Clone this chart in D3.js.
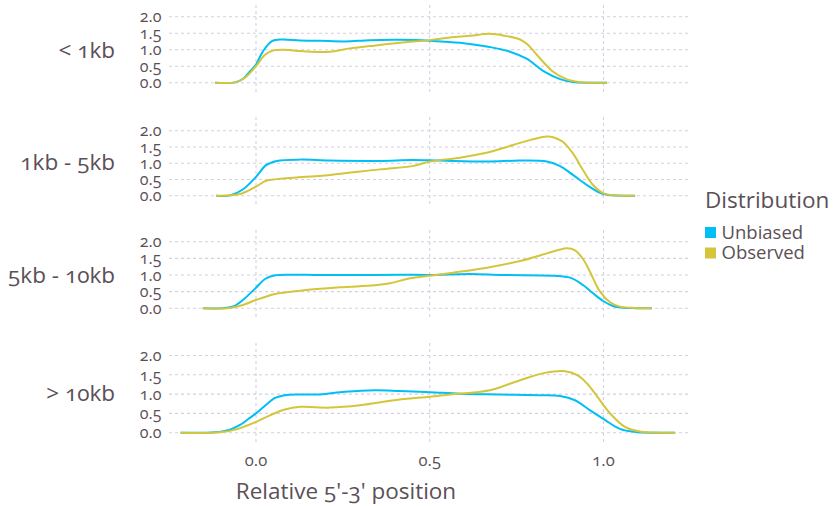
<!DOCTYPE html>
<html>
<head>
<meta charset="utf-8">
<script src="https://cdn.jsdelivr.net/npm/d3@7"></script>
<style>
  html, body { margin: 0; padding: 0; background: #fff; }
  svg text { font-family: "Open Sans", Lato, sans-serif; fill: #5b5058; font-feature-settings: "onum" 1; font-variant-numeric: oldstyle-nums; }
</style>
</head>
<body>
<svg id="chart" width="833" height="506"></svg>
<script>
// Transcript length groups (one facet row each)
const groups = ["< 1kb", "1kb - 5kb", "5kb - 10kb", "> 10kb"];
const seriesNames = ["Unbiased", "Observed"];
const seriesColors = ["#00bff5", "#d3c63a"];
const yTicks = [0, 0.5, 1, 1.5, 2];
const xTicks = [0, 0.5, 1];
const xTitle = "Relative 5'-3' position";
const legendTitle = "Distribution";

// Density along the transcript, [relative position, density]
const unbiasedLt1kb = [[-0.118,0],[-0.060,0.01],[-0.037,0.12],[-0.017,0.35],[0,0.55],[0.020,0.95],[0.046,1.26],[0.075,1.31],[0.127,1.28],[0.184,1.27],[0.256,1.25],[0.328,1.29],[0.414,1.30],[0.501,1.27],[0.587,1.21],[0.673,1.08],[0.731,0.94],[0.780,0.72],[0.826,0.36],[0.875,0.11],[0.912,0.02],[0.961,0],[1.010,0]];
const observedLt1kb = [[-0.118,0],[-0.060,0.01],[-0.032,0.15],[0,0.5],[0.026,0.85],[0.050,0.98],[0.083,1.0],[0.127,0.96],[0.184,0.93],[0.213,0.94],[0.271,1.04],[0.328,1.11],[0.414,1.21],[0.501,1.29],[0.558,1.37],[0.616,1.42],[0.673,1.48],[0.717,1.42],[0.760,1.31],[0.780,1.17],[0.817,0.74],[0.855,0.33],[0.895,0.10],[0.932,0.02],[0.961,0],[1.010,0]];
const unbiased1to5kb = [[-0.115,0],[-0.075,0.01],[-0.037,0.2],[0,0.58],[0.029,0.94],[0.060,1.07],[0.127,1.11],[0.213,1.08],[0.356,1.07],[0.450,1.10],[0.530,1.08],[0.663,1.05],[0.760,1.08],[0.837,1.05],[0.875,0.91],[0.912,0.64],[0.952,0.33],[0.990,0.09],[1.010,0.03],[1.040,0.005],[1.091,0]];
const observed1to5kb = [[-0.115,0],[-0.046,0.05],[0,0.28],[0.029,0.46],[0.060,0.51],[0.213,0.64],[0.356,0.81],[0.450,0.91],[0.501,1.05],[0.587,1.17],[0.663,1.32],[0.740,1.56],[0.788,1.71],[0.837,1.82],[0.855,1.80],[0.883,1.66],[0.912,1.30],[0.941,0.79],[0.970,0.33],[0.999,0.08],[1.030,0.01],[1.091,0]];
const unbiased5to10kb = [[-0.153,0],[-0.089,0.01],[-0.060,0.08],[-0.032,0.3],[0,0.62],[0.026,0.88],[0.055,0.99],[0.098,1.01],[0.184,1.0],[0.299,1.0],[0.414,1.01],[0.501,1.0],[0.616,1.03],[0.710,1.0],[0.855,0.98],[0.904,0.92],[0.941,0.70],[0.970,0.45],[0.999,0.22],[1.027,0.07],[1.056,0.02],[1.091,0.005],[1.139,0]];
const observed5to10kb = [[-0.153,0],[-0.075,0.01],[-0.032,0.12],[0,0.25],[0.055,0.43],[0.127,0.53],[0.242,0.63],[0.342,0.69],[0.386,0.75],[0.443,0.9],[0.501,0.98],[0.567,1.07],[0.665,1.22],[0.760,1.42],[0.837,1.65],[0.870,1.75],[0.895,1.80],[0.918,1.74],[0.941,1.48],[0.961,1.1],[0.990,0.5],[1.019,0.18],[1.047,0.05],[1.091,0.01],[1.139,0]];
const unbiasedGt10kb = [[-0.217,0],[-0.118,0.01],[-0.075,0.08],[-0.046,0.2],[-0.023,0.35],[0,0.5],[0.026,0.7],[0.055,0.9],[0.083,0.97],[0.127,0.99],[0.184,0.99],[0.256,1.06],[0.342,1.10],[0.414,1.08],[0.501,1.05],[0.587,1.01],[0.702,0.99],[0.817,0.97],[0.875,0.95],[0.918,0.84],[0.961,0.58],[1.004,0.33],[1.047,0.1],[1.091,0.02],[1.148,0],[1.206,0]];
const observedGt10kb = [[-0.217,0],[-0.104,0.01],[-0.060,0.08],[0,0.28],[0.040,0.45],[0.083,0.60],[0.127,0.67],[0.213,0.65],[0.299,0.71],[0.414,0.86],[0.501,0.93],[0.558,0.99],[0.673,1.10],[0.760,1.36],[0.832,1.55],[0.889,1.59],[0.927,1.48],[0.955,1.25],[0.981,0.95],[1.019,0.5],[1.062,0.15],[1.105,0.03],[1.163,0],[1.206,0]];

const panelSeries = [
  [unbiasedLt1kb, observedLt1kb],
  [unbiased1to5kb, observed1to5kb],
  [unbiased5to10kb, observed5to10kb],
  [unbiasedGt10kb, observedGt10kb]
];

// Facet geometry: pixel rows for the panel box and for the 0 / 2 gridlines
const panelLayout = [
  { top: 5,   bottom: 94,  y0: 82.7,  y2: 16.7 },
  { top: 117, bottom: 207, y0: 195.7, y2: 130.7 },
  { top: 230, bottom: 319, y0: 308.3, y2: 241.7 },
  { top: 343, bottom: 443, y0: 432.7, y2: 355.5 }
];
const plotLeft = 169, plotRight = 688;

const svg = d3.select("#chart");
svg.append("rect").attr("width", 833).attr("height", 506).attr("fill", "#fff");

const x = d3.scaleLinear().domain([0, 1]).range([256, 603.5]);
const gridColor = "#d4d0e2";

panelLayout.forEach((p, i) => {
  const y = d3.scaleLinear().domain([0, 2]).range([p.y0, p.y2]);
  const g = svg.append("g");

  // horizontal grid
  g.selectAll("line.h").data(yTicks).join("line")
    .attr("x1", plotLeft).attr("x2", plotRight)
    .attr("y1", d => y(d)).attr("y2", d => y(d))
    .attr("stroke", gridColor).attr("stroke-width", 1.1)
    .attr("stroke-dasharray", "3,3");
  // vertical grid
  g.selectAll("line.v").data(xTicks).join("line")
    .attr("x1", d => x(d)).attr("x2", d => x(d))
    .attr("y1", p.top).attr("y2", p.bottom)
    .attr("stroke", gridColor).attr("stroke-width", 1.1)
    .attr("stroke-dasharray", "3,3");

  // y tick labels
  g.selectAll("text.yt").data(yTicks).join("text")
    .attr("x", 161.5).attr("y", d => y(d)).attr("dy", "0.36em")
    .attr("text-anchor", "end").attr("font-size", 16)
    .text(d => d3.format(".1f")(d));

  // facet label
  g.append("text")
    .attr("x", 115).attr("y", (p.top + p.bottom) / 2).attr("dy", "0.36em")
    .attr("text-anchor", "end").attr("font-size", 22.5)
    .text(groups[i]);

  const line = d3.line().x(d => x(d[0])).y(d => y(d[1])).curve(d3.curveCatmullRom.alpha(0.5));
  panelSeries[i].forEach((s, k) => {
    g.append("path").datum(s)
      .attr("d", line)
      .attr("fill", "none")
      .attr("stroke", seriesColors[k])
      .attr("stroke-width", 2)
      .attr("stroke-linejoin", "round");
  });
});

// x axis labels
svg.selectAll("text.xt").data(xTicks).join("text")
  .attr("x", d => x(d)).attr("y", 460).attr("dy", "0.36em")
  .attr("text-anchor", "middle").attr("font-size", 16.5)
  .text(d => d3.format(".1f")(d));

svg.append("text")
  .attr("x", 346).attr("y", 499)
  .attr("text-anchor", "middle").attr("font-size", 22.5)
  .text(xTitle);

// legend
const legend = svg.append("g");
legend.append("text").attr("x", 705).attr("y", 208).attr("font-size", 22.5).text(legendTitle);
seriesNames.forEach((name, k) => {
  legend.append("rect").attr("x", 705).attr("y", 227 + k * 20.5)
    .attr("width", 11).attr("height", 11).attr("fill", seriesColors[k]);
  legend.append("text").attr("x", 721.5).attr("y", 238.5 + k * 20.5)
    .attr("font-size", 18.5).text(name);
});
</script>
</body>
</html>
